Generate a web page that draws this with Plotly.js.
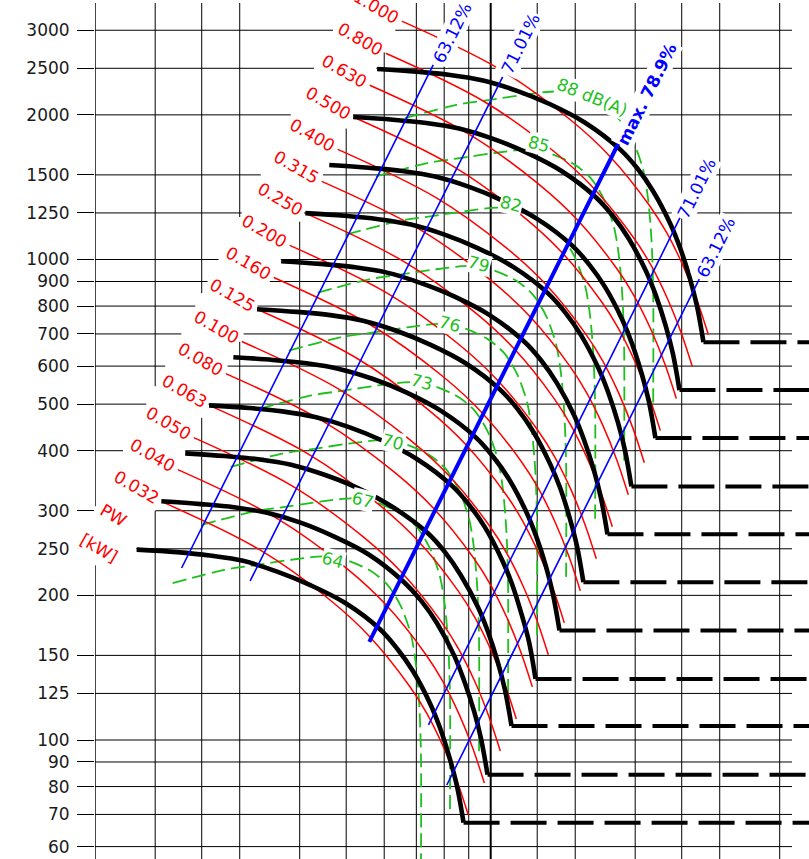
<!DOCTYPE html>
<html><head><meta charset="utf-8">
<script src="https://cdn.plot.ly/plotly-3.0.1.min.js"></script>
<style>html,body{margin:0;padding:0;background:#fff}#chart{width:809px;height:859px}</style>
</head><body><div id="chart"></div>
<script>
// ---------- axis ticks / grid values ----------
const yTicks = [60,70,80,90,100,125,150,200,250,300,400,500,600,700,800,900,1000,1250,1500,2000,2500,3000];
const xGrid = [1.5,2,2.5,3,4,5,6,7,8,9,10,12.5,15,20,25,30,40];

// ---------- fan speed curves (black), flow Q / pressure p ----------
const speedQ = [
 [5.80,7.02,8.23,9.64,11.35,13.3,15.73,18.6,20.18,21.78,23.64,24.8,26.0,26.9,27.75],
 [5.17,6.257,7.34,8.592,10.12,11.85,14.02,16.58,17.99,19.41,21.07,22.10,23.17,23.98,24.73],
 [4.61,5.576,6.54,7.657,9.02,10.56,12.49,14.77,16.03,17.30,18.78,19.70,20.65,21.37,22.04],
 [4.11,4.970,5.83,6.824,8.04,9.42,11.14,13.17,14.29,15.42,16.74,17.56,18.41,19.04,19.64],
 [3.66,4.430,5.19,6.083,7.16,8.39,9.93,11.74,12.73,13.74,14.92,15.65,16.41,16.97,17.51],
 [3.26,3.947,4.63,5.421,6.38,7.48,8.85,10.46,11.35,12.25,13.29,13.95,14.62,15.13,15.60],
 [2.91,3.518,4.13,4.832,5.69,6.67,7.88,9.32,10.11,10.92,11.85,12.43,13.03,13.48,13.91],
 [2.59,3.136,3.68,4.306,5.07,5.94,7.03,8.31,9.01,9.73,10.56,11.08,11.61,12.02,12.40],
 [2.31,2.795,3.28,3.838,4.52,5.30,6.26,7.41,8.03,8.67,9.41,9.87,10.35,10.71,11.05],
 [2.06,2.491,2.92,3.420,4.03,4.72,5.58,6.60,7.16,7.73,8.39,8.80,9.23,9.54,9.85],
 [1.83,2.220,2.60,3.048,3.59,4.21,4.97,5.88,6.38,6.89,7.48,7.84,8.22,8.51,8.78]
];
const speedP = [
 [2492,2460,2421,2358,2244,2104,1926,1695,1550,1389,1190,1058,914,800,673],
 [1979,1954,1923,1873,1782,1671,1530,1346,1230,1103,945,840,726,635,535],
 [1573,1552,1528,1488,1416,1328,1215,1070,977,877,751,668,577,505,425],
 [1249,1233,1213,1182,1125,1055,965,850,776,696,596,530,458,401,337],
 [992,979.3,964,939,893,838,767,675,617,553,474,421,364,319,268],
 [788,777.9,766,746,710,665,609,536,490,439,376,335,289,253,213],
 [626,618,608,592,564,529,484,426,389,349,299,266,230,201,169],
 [497,490.8,483,470,448,420,384,338,309,277,237,211,182,160,134],
 [395,389.9,384,374,356,334,305,269,246,220,189,168,145,127,107],
 [314,309.7,305,297,283,265,243,213,195,175,150,133,115,101,84.7],
 [249,246,242,236,224,210,193,170,155,139,119,106,91.4,80,67.3]
];

// ---------- shaft power lines (red), PW [kW] ----------
const powerLabels = ['0.032','0.040','0.050','0.063','0.080','0.100','0.125','0.160','0.200','0.250','0.315','0.400','0.500','0.630','0.800','1.000'];
const powerQ = [
 [2.064,3.307,4.627,5.604,6.789,7.356,7.965,8.495,8.982],
 [2.229,3.571,4.996,6.051,7.331,7.943,8.601,9.173,9.699],
 [2.406,3.856,5.395,6.534,7.915,8.576,9.286,9.904,10.472],
 [2.598,4.163,5.825,7.055,8.547,9.260,10.027,10.694,11.308],
 [2.806,4.496,6.290,7.618,9.229,10.000,10.828,11.548,12.210],
 [3.030,4.854,6.792,8.226,9.965,10.797,11.691,12.469,13.184],
 [3.271,5.241,7.333,8.882,10.760,11.658,12.624,13.464,14.236],
 [3.532,5.659,7.918,9.590,11.618,12.588,13.630,14.537,15.371],
 [3.814,6.111,8.550,10.355,12.545,13.592,14.718,15.697,16.597],
 [4.118,6.598,9.232,11.182,13.546,14.677,15.893,16.950,17.922],
 [4.447,7.125,9.969,12.073,14.626,15.848,17.160,18.302,19.351],
 [4.802,7.693,10.764,13.037,15.793,17.112,18.529,19.762,20.895],
 [5.185,8.307,11.623,14.077,17.053,18.478,20.007,21.339,22.562],
 [5.598,8.970,12.550,15.200,18.414,19.952,21.603,23.041,24.362],
 [6.045,9.685,13.551,16.412,19.882,21.543,23.326,24.878,26.305],
 [6.527,10.458,14.632,17.721,21.469,23.262,25.188,26.864,28.404]
];
const powerP = [
 [313.3,248.6,195.6,163.9,129.1,113.7,96.85,82.56,69.8],
 [365.3,289.8,228.1,191.1,150.5,132.6,112.9,96.26,81.38],
 [425.9,337.9,265.9,222.8,175.5,154.6,131.7,112.2,94.89],
 [496.6,394.0,310.0,259.8,204.6,180.2,153.5,130.8,110.6],
 [578.9,459.4,361.4,302.9,238.6,210.1,179.0,152.6,129.0],
 [675.0,535.6,421.4,353.1,278.1,245.0,208.7,177.9,150.4],
 [787.0,624.5,491.3,411.7,324.3,285.6,243.3,207.4,175.3],
 [917.5,728.0,572.8,480.0,378.1,333.0,283.6,241.8,204.4],
 [1069.8,848.8,667.9,559.6,440.8,388.2,330.7,281.9,238.3],
 [1247.3,989.7,778.7,652.5,514.0,452.7,385.6,328.7,277.9],
 [1454.2,1153.9,907.9,760.8,599.2,527.7,449.5,383.2,324.0],
 [1695.5,1345.3,1058.5,887.0,698.6,615.3,524.1,446.8,377.7],
 [1976.8,1568.6,1234.2,1034.1,814.6,717.4,611.1,520.9,440.4],
 [2304.8,1828.8,1438.9,1205.7,949.7,836.4,712.5,607.3,513.5],
 [2687.2,2132.2,1677.7,1405.8,1107.3,975.2,830.7,708.1,598.7],
 [3133,2486,1956,1639,1291,1137,968.5,825.6,698]
];

// ---------- sound level lines (green dashed), dB(A) ----------
const soundLabels = ['64','67','70','73','76','79','82','85','88 dB(A)'];
const soundQ = [
 [2.175,2.786,3.270,3.838,4.501,4.995,5.630,6.101,6.501,6.823,6.987,7.099,7.157,7.157],
 [2.500,3.202,3.758,4.411,5.173,5.741,6.471,7.013,7.472,7.842,8.031,8.160,8.226,8.226],
 [2.874,3.680,4.319,5.070,5.946,6.599,7.438,8.061,8.588,9.014,9.231,9.379,9.455,9.455],
 [3.303,4.230,4.965,5.827,6.834,7.584,8.549,9.265,9.871,10.360,10.610,10.780,10.867,10.867],
 [3.796,4.862,5.707,6.698,7.855,8.718,9.826,10.649,11.346,11.908,12.195,12.391,12.491,12.491],
 [4.364,5.589,6.559,7.699,9.029,10.020,11.294,12.240,13.042,13.687,14.017,14.242,14.358,14.358],
 [5.016,6.424,7.539,8.849,10.378,11.518,12.982,14.070,14.990,15.733,16.112,16.371,16.503,16.503],
 [5.765,7.384,8.666,10.171,11.928,13.238,14.922,16.171,17.230,18.083,18.519,18.816,18.968,18.968],
 [6.626,8.487,9.960,11.691,13.710,15.216,17.151,18.587,19.804,20.784,21.285,21.627,21.802,21.802]
];
const soundP = [
 [212.1,226.0,231.5,237.2,241.0,236.9,224.7,210.1,189.7,165.5,143.4,118.4,93.2,54.1],
 [280.2,298.6,305.9,313.3,318.4,312.9,296.8,277.5,250.6,218.7,189.4,156.4,123.1,71.5],
 [370.2,394.5,404.1,413.9,420.6,413.4,392.1,366.6,331.1,288.9,250.2,206.6,162.6,94.5],
 [489.1,521.2,533.9,546.8,555.7,546.1,518.0,484.3,437.4,381.7,330.6,273.0,214.9,124.8],
 [646.1,688.5,705.4,722.4,734.2,721.5,684.4,639.9,577.9,504.3,436.7,360.6,283.9,164.9],
 [853.6,909.6,931.9,954.4,969.9,953.2,904.1,845.3,763.4,666.2,577.0,476.4,375.0,217.8],
 [1127.7,1201.8,1231.2,1260.9,1281.5,1259.3,1194.5,1116.9,1008.6,880.2,762.3,629.5,495.4,287.8],
 [1489.9,1587.7,1626.5,1665.9,1693.0,1663.8,1578.1,1475.5,1332.5,1162.9,1007.1,831.6,654.6,380.2],
 [1968.3,2097.5,2148.8,2200.8,2236.6,2198.0,2084.9,1949.3,1760.4,1536.3,1330.5,1098.6,864.7,502.3]
];

// ---------- efficiency lines (blue) ----------
const effLabels = ['63.12%','71.01%','max. 78.9%','71.01%','63.12%'];
const effQ = [[2.27,7.59],[3.154,10.59],[5.586,18.6],[7.42,24.9],[8.1,27.2]];
const effP = [[228,2540],[214.3,2400],[160,1773],[107.5,1232],[80.6,910]];

// ---------- drawing ----------
const F = 'DejaVu Sans, Arial, sans-serif';
const L10 = Math.log10;
const traces = [];
const none = {hoverinfo:'skip', showlegend:false, mode:'lines'};

soundQ.forEach((q,i)=>traces.push(Object.assign({x:q, y:soundP[i],
  line:{color:'#1ec01e', width:1.8, dash:'14px,6px', shape:'spline', smoothing:0.8}}, none)));
powerQ.forEach((q,i)=>traces.push(Object.assign({x:q, y:powerP[i],
  line:{color:'#ff0000', width:1.5, shape:'spline', smoothing:1}}, none)));
speedQ.forEach((q,i)=>{
  traces.push(Object.assign({x:q, y:speedP[i],
    line:{color:'#000', width:4.6, shape:'spline', smoothing:1}}, none));
  const n = q.length-1;
  traces.push(Object.assign({x:[q[n], 60], y:[speedP[i][n], speedP[i][n]],
    line:{color:'#000', width:4, dash:'36px,11px'}}, none));
});
effQ.forEach((q,i)=>traces.push(Object.assign({x:q, y:effP[i],
  line:{color:'#0000ff', width: i===2 ? 4 : 1.6}}, none)));

// ---------- grid (segments interrupted by the diagonal label band) ----------
const xr = [0.17563, 1.66313], yr = [1.75234, 3.53382];
const Qmin = Math.pow(10, xr[0]), Qgrid = 42.44;
const Ptop = Math.pow(10, yr[1]), Pbot = Math.pow(10, yr[0]);
const band = {q1:4.695, p1:3002, q2:3.987, p2:1191, pCap:231};
const shapes = [];
function seg(x0,x1,y0,y1,w){ shapes.push({type:'line', xref:'x', yref:'y', x0:x0, x1:x1, y0:y0, y1:y1,
  layer:'below', line:{color:'#000', width:w||1}}); }
yTicks.forEach(p=>{
  if (p >= band.pCap) {
    const qa = band.q1*Math.sqrt(p/band.p1);
    if (qa > Qmin) seg(Qmin, qa, p, p);
    const qb = band.q2*Math.sqrt(p/band.p2);
    seg(qb, Qgrid, p, p);
  } else seg(Qmin, Qgrid, p, p);
});
xGrid.forEach(q=>{
  const w = q===10 ? 2 : 1;
  const pd1 = band.p1*Math.pow(q/band.q1,2);
  const pd2 = band.p2*Math.pow(q/band.q2,2);
  if (q <= 3) seg(q, q, Ptop, pd1, w);
  const start = Math.min(Ptop, Math.max(pd2, band.pCap));
  seg(q, q, start, Pbot, w);
});

// ---------- labels ----------
const ann = [];
powerLabels.forEach((t,k)=>ann.push({x:L10(powerQ[k][0]), y:L10(powerP[k][0]), xref:'x', yref:'y',
  text:t, showarrow:false, textangle:30, xshift:-25.7, yshift:14.2,
  font:{family:F, size:17, color:'#ff0000'}, bgcolor:'#ffffff', borderpad:1}));
ann.push({x:L10(powerQ[0][0]), y:L10(powerP[0][0]), xref:'x', yref:'y', text:'PW', showarrow:false,
  textangle:30, xshift:-48.7, yshift:-13.3, font:{family:F, size:17, color:'#ff0000'}, bgcolor:'#ffffff'});
ann.push({x:L10(powerQ[0][0]), y:L10(powerP[0][0]), xref:'x', yref:'y', text:'[kW]', showarrow:false,
  textangle:30, xshift:-62.7, yshift:-46.3, font:{family:F, size:17, color:'#ff0000'}, bgcolor:'#ffffff'});

const soundShift = [[8.7,-3.7],[9.7,-1.7],[10.7,-1.7],[10.7,0.3],[9.7,0.3],[9.7,2.3],[12.7,3.3],[11.7,5.3],[35.7,-5.7]];
soundLabels.forEach((t,k)=>{
  const big = k===soundLabels.length-1;
  ann.push({x:L10(soundQ[k][4]), y:L10(soundP[k][4]), xref:'x', yref:'y', text:t, showarrow:false,
    textangle: big ? 22 : 15, xshift: soundShift[k][0], yshift: soundShift[k][1],
    font:{family:F, size:17, color:'#1ec01e'}, bgcolor:'#ffffff', borderpad:0});
});
const effShift = [[19,32],[18.3,33.7],[27,46],[16,28],[16.7,32.3]];
effLabels.forEach((t,k)=>ann.push({x:L10(effQ[k][1]), y:L10(effP[k][1]), xref:'x', yref:'y',
  text: k===2 ? '<b>'+t+'</b>' : t, showarrow:false, textangle:-63.4,
  xshift:effShift[k][0], yshift:effShift[k][1],
  font:{family:F, size:17, color:'#0000ff'}, bgcolor:'#ffffff', borderpad:1}));

const layout = {
  width:809, height:859, autosize:false,
  margin:{l:95, r:0, t:3, b:0, pad:0},
  paper_bgcolor:'#ffffff', plot_bgcolor:'#ffffff',
  showlegend:false,
  xaxis:{type:'log', range:xr, showgrid:false, zeroline:false, showline:false,
         showticklabels:false, ticks:''},
  yaxis:{type:'log', range:yr, showgrid:false, zeroline:false, showline:false,
         tickmode:'array', tickvals:yTicks, ticktext:yTicks.map(String),
         ticks:'outside', ticklen:17, tickwidth:1, tickcolor:'#000',
         ticklabelstandoff:4, tickfont:{family:F, size:17, color:'#1a1a1a'}},
  shapes:shapes, annotations:ann
};
Plotly.newPlot('chart', traces, layout, {displayModeBar:false, staticPlot:true});
</script></body></html>
